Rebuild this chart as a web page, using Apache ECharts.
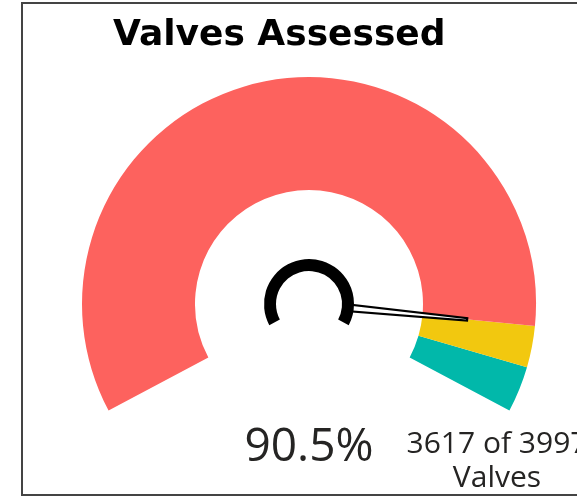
<!DOCTYPE html>
<html>
<head>
<meta charset="utf-8">
<script src="https://cdn.jsdelivr.net/npm/echarts@6/dist/echarts.min.js"></script>
<style>
  html, body { margin: 0; padding: 0; background: #fff; overflow: hidden; }
  #frame {
    position: absolute; left: 21px; top: 2px; width: 640px; height: 490px;
    border: 2px solid #444;
  }
  #chart { position: absolute; left: 0; top: 0; width: 577px; height: 498px; }
</style>
</head>
<body>
<div id="frame"></div>
<div id="chart"></div>
<script>
// data
const assessed = [3617];
const total = [3997];
const bandStops = [0.905, 0.95, 1];
const bandColors = ['#FD625E', '#F2C80F', '#01B8AA'];

const pct = assessed[0] / total[0] * 100;

const myChart = echarts.init(document.getElementById('chart'), null, { renderer: 'canvas' });

const center = [309, 304];
const startAngle = 208;
const endAngle = -28;

const option = {
  animation: false,
  title: {
    text: 'Valves Assessed',
    left: 108,
    top: 13,
    textStyle: {
      fontFamily: 'DejaVu Sans, sans-serif',
      fontWeight: 'bold',
      fontSize: 36,
      color: '#000'
    }
  },
  series: [
    {
      type: 'gauge',
      center: center,
      radius: 227,
      startAngle: startAngle,
      endAngle: endAngle,
      min: 0,
      max: 100,
      z: 2,
      axisLine: {
        lineStyle: {
          width: 113,
          color: bandStops.map((s, i) => [s, bandColors[i]])
        }
      },
      splitLine: { show: false },
      axisTick: { show: false },
      axisLabel: { show: false },
      pointer: {
        icon: 'path://M3.5 0 L6.5 0 L10 100 L0 100 Z',
        length: '70%',
        width: 8,
        itemStyle: { color: '#fff', borderColor: '#000', borderWidth: 2.2 }
      },
      anchor: {
        show: true,
        showAbove: true,
        size: 70,
        itemStyle: { color: '#fff', borderWidth: 0 }
      },
      detail: {
        offsetCenter: [0, 144],
        formatter: v => v.toFixed(1) + '%',
        fontFamily: 'Open Sans, sans-serif',
        fontWeight: 'normal',
        fontSize: 46,
        color: '#252423'
      },
      title: {
        offsetCenter: [188, 157],
        fontFamily: 'Open Sans, sans-serif',
        fontSize: 30,
        lineHeight: 34,
        color: '#252423'
      },
      data: [{ value: pct, name: assessed[0] + ' of ' + total[0] + '\nValves' }]
    },
    {
      type: 'gauge',
      center: center,
      radius: 45,
      startAngle: startAngle,
      endAngle: endAngle,
      z: 5,
      axisLine: { lineStyle: { width: 12, color: [[1, '#000']] } },
      splitLine: { show: false },
      axisTick: { show: false },
      axisLabel: { show: false },
      pointer: { show: false },
      detail: { show: false },
      title: { show: false },
      data: [{ value: 0 }]
    }
  ]
};

myChart.setOption(option);
</script>
</body>
</html>
